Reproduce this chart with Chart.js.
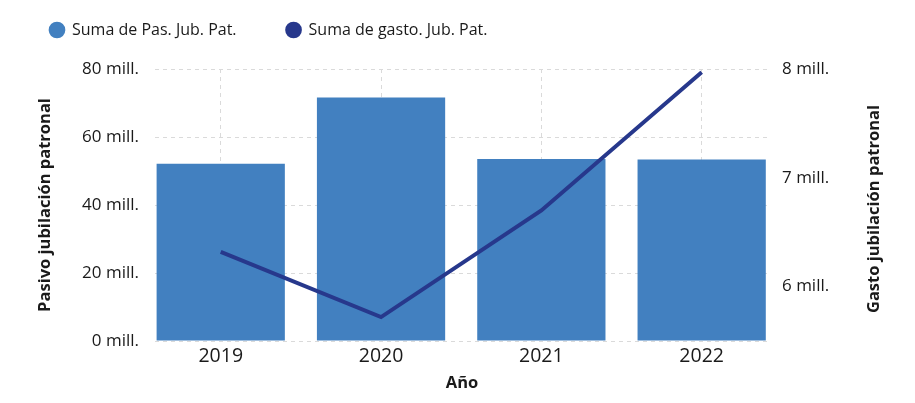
<!DOCTYPE html>
<html lang="es">
<head>
<meta charset="utf-8">
<title>Pasivo y gasto jubilación patronal</title>
<script src="https://cdn.jsdelivr.net/npm/chart.js@4.4.1/dist/chart.umd.min.js"></script>
<style>
    html, body { margin: 0; padding: 0; background: #fff; }
    #wrap { position: relative; width: 915px; height: 403px; }
</style>
</head>
<body>
<div id="wrap"><canvas id="jubChart" width="915" height="403"></canvas></div>
<script>
// Datos (millones)
const years = ['2019', '2020', '2021', '2022'];
const pasivoJubPat = [52.1, 71.6, 53.5, 53.4];
const gastoJubPat = [6.32, 5.72, 6.70, 7.97];
const leftTicks = [0, 20, 40, 60, 80];
const rightTicks = [6, 7, 8];

const FONT = "'Open Sans', 'Noto Sans', sans-serif";
const BAR_COLOR = '#4280c0';
const LINE_COLOR = '#27388c';
const GRID_COLOR = '#dadada';
const TEXT_COLOR = '#1a1a1a';
const RIGHT_TITLE = 'Gasto jubilación patronal';

Chart.defaults.font.family = FONT;
Chart.defaults.font.size = 16;
Chart.defaults.color = TEXT_COLOR;

// extra space under the legend
const legendSpacer = {
    id: 'legendSpacer',
    beforeInit(chart) {
        const origFit = chart.legend.fit;
        chart.legend.fit = function fit() {
            origFit.bind(chart.legend)();
            this.height += 21;
        };
    }
};

// right axis title reads bottom-to-top in the original
const rightTitle = {
    id: 'rightTitle',
    afterDraw(chart) {
        const {ctx, chartArea} = chart;
        ctx.save();
        ctx.translate(874, (chartArea.top + chartArea.bottom) / 2 + 4);
        ctx.rotate(-Math.PI / 2);
        ctx.font = "bold 16.5px " + FONT;
        ctx.fillStyle = TEXT_COLOR;
        ctx.textAlign = 'center';
        ctx.textBaseline = 'middle';
        ctx.fillText(RIGHT_TITLE, 0, 0);
        ctx.restore();
    }
};

const ctx = document.getElementById('jubChart').getContext('2d');
new Chart(ctx, {
    type: 'bar',
    data: {
        datasets: [{
            type: 'line',
            label: 'Suma de gasto. Jub. Pat.',
            data: gastoJubPat.map((v, i) => ({x: i, y: v})),
            yAxisID: 'y1',
            borderColor: LINE_COLOR,
            backgroundColor: LINE_COLOR,
            borderWidth: 4,
            pointRadius: 0,
            tension: 0,
            order: 0
        }, {
            label: 'Suma de Pas. Jub. Pat.',
            data: pasivoJubPat.map((v, i) => ({x: i, y: v})),
            yAxisID: 'y',
            backgroundColor: BAR_COLOR,
            borderWidth: 0,
            categoryPercentage: 1,
            barPercentage: 0.8,
            order: 1
        }]
    },
    options: {
        responsive: false,
        animation: false,
        layout: {
            padding: { top: -28, left: 0, right: 0, bottom: 0 }
        },
        plugins: {
            legend: {
                position: 'top',
                align: 'start',
                reverse: true,
                labels: {
                    usePointStyle: true,
                    pointStyle: 'circle',
                    boxWidth: 14,
                    boxHeight: 11.8,
                    padding: 50,
                    color: TEXT_COLOR,
                    font: { size: 16 },
                    generateLabels(chart) {
                        return Chart.defaults.plugins.legend.labels.generateLabels(chart)
                            .map(item => Object.assign(item, { lineWidth: 0 }));
                    }
                }
            },
            tooltip: { enabled: false }
        },
        scales: {
            x: {
                type: 'linear',
                min: -0.41,
                max: 3.42,
                offset: false,
                afterFit(scale) { scale.height = 62; },
                afterBuildTicks(scale) {
                    scale.ticks = years.map((y, i) => ({ value: i }));
                },
                ticks: {
                    padding: 4,
                    maxRotation: 0,
                    callback: (v) => years[v],
                    font: { size: 19.5 }
                },
                grid: {
                    color: GRID_COLOR,
                    offset: false,
                    drawTicks: false
                },
                border: { display: false, dash: [4, 4] },
                title: {
                    display: true,
                    text: 'Año',
                    font: { size: 16.5, weight: 'bold' },
                    padding: { top: 0, bottom: 10 }
                }
            },
            y: {
                position: 'left',
                min: 0,
                max: 80,
                afterFit(scale) { scale.width = 155; },
                afterBuildTicks(scale) {
                    scale.ticks = leftTicks.map(v => ({ value: v }));
                },
                ticks: {
                    padding: 16,
                    font: { size: 17 },
                    callback: (v) => v + ' mill.'
                },
                grid: {
                    color: GRID_COLOR,
                    drawTicks: false
                },
                border: { display: false, dash: [4, 4] },
                title: {
                    display: true,
                    text: 'Pasivo jubilación patronal',
                    font: { size: 16.5, weight: 'bold' },
                    padding: { top: 35, bottom: 0 }
                }
            },
            y1: {
                position: 'right',
                min: 5.5,
                max: 8,
                afterFit(scale) { scale.width = 146; },
                afterBuildTicks(scale) {
                    scale.ticks = rightTicks.map(v => ({ value: v }));
                },
                ticks: {
                    padding: 13,
                    font: { size: 17 },
                    callback: (v) => v + ' mill.'
                },
                grid: { drawOnChartArea: false, drawTicks: false },
                border: { display: false }
            }
        }
    },
    plugins: [legendSpacer, rightTitle]
});
</script>
</body>
</html>
